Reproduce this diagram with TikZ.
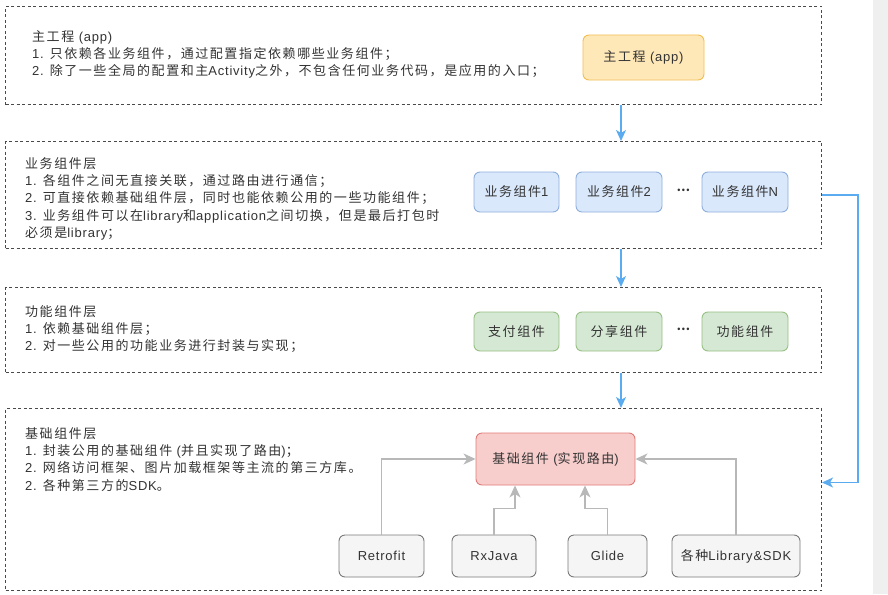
\documentclass[tikz,border=0pt]{standalone}
\usepackage{fontspec}
\setmainfont{Noto Sans CJK SC}[LetterSpace=12]
\newfontfamily\latf{Liberation Sans}[LetterSpace=6]
\newcommand{\latw}[1]{{\latf #1}}
\usetikzlibrary{arrows.meta}
\definecolor{txt}{HTML}{333333}
\definecolor{dashc}{HTML}{4A4A4A}
\definecolor{bluel}{HTML}{5AABF0}
\definecolor{grayl}{HTML}{B8B8B8}
\definecolor{strip}{HTML}{EFEFEF}
\definecolor{appf}{HTML}{FFE8B8}\definecolor{appd}{HTML}{EFBE55}
\definecolor{busf}{HTML}{DAE8FC}\definecolor{busd}{HTML}{8EAEDD}
\definecolor{funf}{HTML}{D5E8D4}\definecolor{fund}{HTML}{97C083}
\definecolor{basef}{HTML}{F8CECC}\definecolor{based}{HTML}{E07A78}
\definecolor{libf}{HTML}{F5F5F5}\definecolor{libd}{HTML}{7A7A7A}
\tikzset{
  layer/.style={draw=dashc, line width=1pt, dash pattern=on 3pt off 2.5pt, anchor=north west, inner sep=0pt},
  desc/.style={anchor=north west, align=left, inner sep=0pt, text=txt, font=\fontsize{13}{17.3}\selectfont},
  comp/.style={draw, rounded corners=6pt, line width=0.9pt, inner sep=0pt, text=txt, font=\fontsize{13}{15}\selectfont},
  bluearr/.style={draw=bluel, line width=1.3pt, -{Stealth[length=11pt,width=10pt,inset=3pt]}},
  grayarr/.style={draw=grayl, line width=1.3pt, -{Stealth[length=12pt,width=11pt,inset=3.5pt]}},
}
\begin{document}
\begin{tikzpicture}[x=1pt,y=-1pt]
\useasboundingbox (0,0) rectangle (888,594);
\fill[white] (0,0) rectangle (888,594);
\fill[strip] (873,0) rectangle (888,594);

% layers
\node[layer, minimum width=816pt, minimum height=98pt] (L1) at (5,6) {};
\node[layer, minimum width=816pt, minimum height=107pt] (L2) at (5,141) {};
\node[layer, minimum width=816pt, minimum height=85pt] (L3) at (5,287) {};
\node[layer, minimum width=816pt, minimum height=182pt] (L4) at (5,408) {};

% descriptions
\node[desc] (D1) at (32,30) {主工程 \latw{(app)}\\\latw{1.} 只依赖各业务组件，通过配置指定依赖哪些业务组件；\\\latw{2.} 除了一些全局的配置和主\latw{Activity}之外，不包含任何业务代码，是应用的入口；};
\node[desc] (D2) at (25,157) {业务组件层\\\latw{1.} 各组件之间无直接关联，通过路由进行通信；\\\latw{2.} 可直接依赖基础组件层，同时也能依赖公用的一些功能组件；\\\latw{3.} 业务组件可以在\latw{library}和\latw{application}之间切换，但是最后打包时\\必须是\latw{library}；};
\node[desc] (D3) at (25,305) {功能组件层\\\latw{1.} 依赖基础组件层；\\\latw{2.} 对一些公用的功能业务进行封装与实现；};
\node[desc] (D4) at (25,427) {基础组件层\\\latw{1.} 封装公用的基础组件 \latw{(}并且实现了路由\latw{)}；\\\latw{2.} 网络访问框架、图片加载框架等主流的第三方库。\\\latw{2.} 各种第三方的\latw{SDK}。};

% components
\node[comp, draw=appd, fill=appf, minimum width=121pt, minimum height=45pt] (app) at (643.5,57.5) {主工程 \latw{(app)}};

\node[comp, draw=busd, fill=busf, minimum width=85pt, minimum height=40pt] (b1) at (516.5,192) {业务组件\latw{1}};
\node[comp, draw=busd, fill=busf, minimum width=86pt, minimum height=40pt] (b2) at (619,192) {业务组件\latw{2}};
\node[text=txt, font=\fontsize{12}{14}\selectfont, inner sep=0pt] (bd) at (684,190) {\textbf{…}};
\node[comp, draw=busd, fill=busf, minimum width=86pt, minimum height=40pt] (bn) at (745,192) {业务组件\latw{N}};

\node[comp, draw=fund, fill=funf, minimum width=85pt, minimum height=39pt] (f1) at (516.5,331.5) {支付组件};
\node[comp, draw=fund, fill=funf, minimum width=86pt, minimum height=39pt] (f2) at (619,331.5) {分享组件};
\node[text=txt, font=\fontsize{12}{14}\selectfont, inner sep=0pt] (fd) at (684,329.5) {\textbf{…}};
\node[comp, draw=fund, fill=funf, minimum width=86pt, minimum height=39pt] (fn) at (745,331.5) {功能组件};

\node[comp, draw=based, fill=basef, minimum width=159pt, minimum height=52pt] (base) at (555.5,459) {基础组件 \latw{(}实现路由\latw{)}};

\node[comp, draw=libd, fill=libf, minimum width=85pt, minimum height=42pt] (retro) at (381.5,556) {\latw{Retrofit}};
\node[comp, draw=libd, fill=libf, minimum width=84pt, minimum height=42pt] (rx) at (494,556) {\latw{RxJava}};
\node[comp, draw=libd, fill=libf, minimum width=79pt, minimum height=42pt] (glide) at (607.5,556) {\latw{Glide}};
\node[comp, draw=libd, fill=libf, minimum width=128pt, minimum height=42pt] (lib) at (736,556) {各种\latw{Library\&SDK}};

% blue connectors
\coordinate (ax) at (621,0);
\draw[bluearr] (ax |- L1.south) -- (ax |- L2.north);
\draw[bluearr] (ax |- L2.south) -- (ax |- L3.north);
\draw[bluearr] (ax |- L3.south) -- (ax |- L4.north);
\coordinate (rx1) at (858,0);
\draw[bluearr] (L2.east) -- (rx1 |- L2.east) |- ([yshift=17pt]L4.east);

% gray connectors
\draw[grayarr] (retro.north) |- (base.west);
\draw[grayarr] (lib.north) |- (base.east);
\draw[grayarr] (rx.north) -- ++(0,-26) -| ([xshift=-40.5pt]base.south);
\draw[grayarr] (glide.north) -- ++(0,-26) -| ([xshift=29.5pt]base.south);
\end{tikzpicture}
\end{document}
